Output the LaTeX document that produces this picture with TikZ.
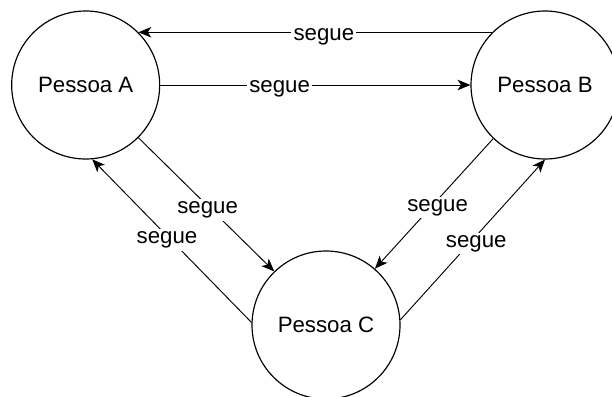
\documentclass[tikz,border=0pt]{standalone}
\usepackage{fontspec}
\setmainfont{Liberation Sans}
\usetikzlibrary{arrows.meta}

\begin{document}
\begin{tikzpicture}[>={Stealth[length=11pt, width=9pt, inset=3pt]},
    pessoa/.style={circle, draw, line width=1pt, minimum size=4.44cm,
        font=\fontsize{19}{22}\selectfont},
    rel/.style={->, line width=0.8pt},
    lbl/.style={fill=white, inner sep=2pt, yshift=-3.5pt,
        font=\fontsize{19}{22}\selectfont}]
\useasboundingbox (0,0) rectangle (18.36,11.88);
\node[pessoa] (A) at (2.57,9.33) {Pessoa A};
\node[pessoa] (B) at (16.35,9.33) {Pessoa B};
\node[pessoa] (C) at (9.78,2.13) {Pessoa C};
\draw[rel] (B.135) -- node[lbl, pos=0.476] {segue} (A.45);
\draw[rel] (A.east) -- node[lbl, pos=0.385] {segue} (B.west);
\draw[rel] (A.-45) -- node[lbl, pos=0.51] {segue} (C.134);
\draw[rel] (C.178) -- node[lbl, pos=0.53] {segue} (A.-85);
\draw[rel] (B.-134) -- node[lbl, pos=0.5, xshift=3pt] {segue} (C.49);
\draw[rel] (C.4) -- node[lbl, pos=0.5, xshift=3pt] {segue} (B.south);
\end{tikzpicture}
\end{document}
